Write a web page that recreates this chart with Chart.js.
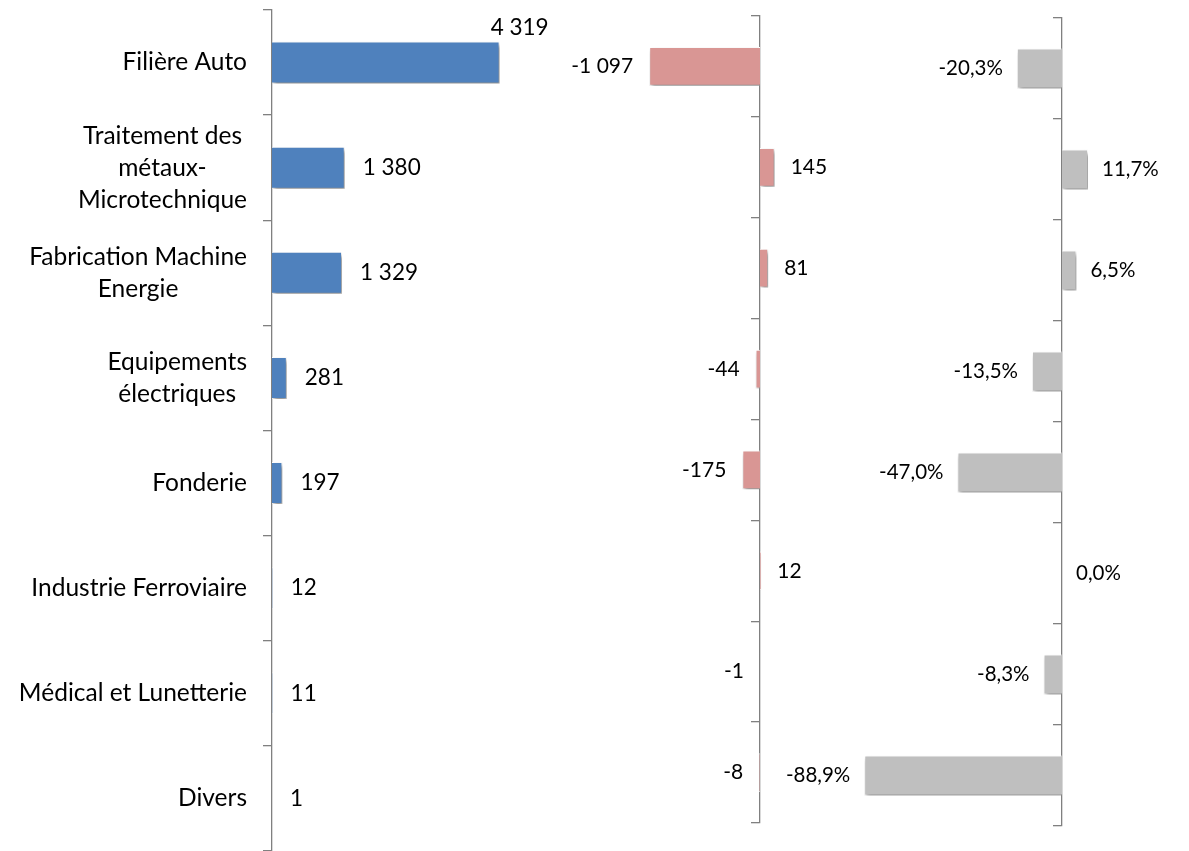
<!DOCTYPE html>
<html><head><meta charset="utf-8">
<script src="https://cdn.jsdelivr.net/npm/chart.js@4"></script>
<style>
html,body{margin:0;padding:0;background:#fff;}
#wrap{position:relative;width:1189px;height:851px;overflow:hidden;}
canvas{position:absolute;left:0;top:0;}
</style></head><body>
<div id="wrap">
<canvas id="c1" width="1189" height="851"></canvas>
<canvas id="c2" width="1189" height="851"></canvas>
<canvas id="c3" width="1189" height="851"></canvas>
</div>
<script>
const categories = [["Filière Auto"], ["Traitement des","métaux-","Microtechnique"], ["Fabrication Machine","Energie"], ["Equipements","électriques"], ["Fonderie"], ["Industrie Ferroviaire"], ["Médical et Lunetterie"], ["Divers"]];
const effectifs = [4319, 1380, 1329, 281, 197, 12, 11, 1];
const variation = [-1097, 145, 81, -44, -175, 12, -1, -8];
const variationPct = [-20.3, 11.7, 6.5, -13.5, -47.0, 0.0, -8.3, -88.9];

const FONT = 'Lato';
function fmtInt(v){
  const s = String(Math.abs(v)).replace(/\B(?=(\d{3})+(?!\d))/g, ' ');
  return (v < 0 ? '-' : '') + s;
}
function fmtPct(v){
  return (v < 0 ? '-' : '') + Math.abs(v).toFixed(1).replace('.', ',') + '%';
}

const shadowPlugin = {
  id: 'shadow',
  beforeDatasetsDraw(chart){
    const c = chart.ctx; c.save();
    c.shadowColor = 'rgba(0,0,0,0.45)'; c.shadowBlur = 4; c.shadowOffsetX = 2; c.shadowOffsetY = 3;
  },
  afterDatasetsDraw(chart){ chart.ctx.restore(); }
};

function valueLabels(fmt, size, gap){
  return {
    id: 'vals',
    afterDraw(chart){
      const ctx = chart.ctx, xs = chart.scales.x, ys = chart.scales.y;
      const data = chart.data.datasets[0].data;
      const meta = chart.getDatasetMeta(0);
      ctx.save();
      ctx.font = size + 'px ' + FONT; ctx.fillStyle = '#000'; ctx.textBaseline = 'middle';
      data.forEach((v, i) => {
        const txt = fmt(v), w = ctx.measureText(txt).width;
        const end = xs.getPixelForValue(v), y = ys.getPixelForValue(i);
        const h = meta.data[i].height;
        if (v < 0) { ctx.textAlign = 'right'; ctx.fillText(txt, end - gap, y); }
        else if (end + gap + w > chart.chartArea.right) {
          ctx.textAlign = 'center'; ctx.fillText(txt, end + 20, y - h / 2 - 14);
        } else { ctx.textAlign = 'left'; ctx.fillText(txt, end + gap, y); }
      });
      ctx.restore();
    }
  };
}

const categoryLabels = {
  id: 'cats',
  afterDraw(chart){
    const ctx = chart.ctx, xs = chart.scales.x, ys = chart.scales.y;
    const right = xs.getPixelForValue(0) - 25;
    ctx.save();
    ctx.font = '24.5px ' + FONT; ctx.fillStyle = '#000'; ctx.textBaseline = 'middle'; ctx.textAlign = 'center';
    categories.forEach((lines, i) => {
      const yc = ys.getPixelForValue(i), lh = 32;
      const maxW = Math.max(...lines.map(l => ctx.measureText(l).width));
      const cx = right - maxW / 2;
      lines.forEach((l, j) => ctx.fillText(l, cx, yc + (j - (lines.length - 1) / 2) * lh));
    });
    ctx.restore();
  }
};

function makeChart(id, values, color, area, xmin, xmax, barPct, extra){
  return new Chart(document.getElementById(id), {
    type: 'bar',
    data: {
      labels: categories.map(c => c.join(' ')),
      datasets: [{ data: values, backgroundColor: color, borderColor: '#ffffff', borderWidth: 1,
                   barPercentage: barPct, categoryPercentage: 1 }]
    },
    options: {
      responsive: false, animation: false, events: [], indexAxis: 'y',
      layout: { padding: { left: area.left, right: 1189 - area.right, top: area.top, bottom: 851 - area.bottom } },
      plugins: { legend: { display: false }, tooltip: { enabled: false } },
      scales: {
        x: { display: false, min: xmin, max: xmax },
        y: {
          position: { x: 0 }, offset: true,
          afterFit(s){ s.width = 0; },
          ticks: { display: false },
          grid: { drawOnChartArea: false, drawTicks: true, tickLength: 8, color: '#808080', lineWidth: 1.3, offset: true },
          border: { display: true, color: '#808080', width: 1.3 }
        }
      }
    },
    plugins: [shadowPlugin].concat(extra)
  });
}

makeChart('c1', effectifs, '#4F81BD', {left: 272, right: 560, top: 10, bottom: 851}, 0, 288 / 0.0527, 0.4,
  [valueLabels(fmtInt, 22.5, 18), categoryLabels]);
makeChart('c2', variation, '#D99694', {left: 560, right: 960, top: 16, bottom: 823}, -200 / 0.101, 200 / 0.101, 0.385,
  [valueLabels(fmtInt, 21, 16)]);
makeChart('c3', variationPct, '#BFBFBF', {left: 842, right: 1182, top: 18, bottom: 826}, -220 / 2.224, 120 / 2.224, 0.395,
  [valueLabels(fmtPct, 20.5, 14)]);
</script>
</body></html>
